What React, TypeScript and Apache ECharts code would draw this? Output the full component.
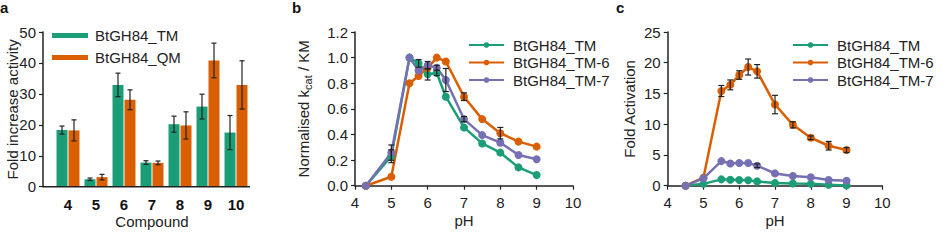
import React, { useEffect, useRef } from 'react';
import * as echarts from 'echarts';

// Panel a: fold increase in activity per compound
const compounds = ['4', '5', '6', '7', '8', '9', '10'];
const barNames = ['BtGH84_TM', 'BtGH84_QM'];
const tmActivity = [18.3, 2.4, 32.9, 7.8, 20.2, 25.9, 17.5];
const tmActivityErr = [1.3, 0.4, 3.8, 0.6, 2.6, 4.0, 5.5];
const qmActivity = [18.2, 3.1, 28.1, 7.7, 19.8, 40.8, 32.9];
const qmActivityErr = [3.4, 0.9, 3.2, 0.6, 4.4, 5.6, 7.8];

// Panel b: normalised kcat/KM vs pH
const lineNames = ['BtGH84_TM', 'BtGH84_TM-6', 'BtGH84_TM-7'];
const phKinetics = [4.3, 5, 5.5, 5.75, 6, 6.25, 6.5, 7, 7.5, 8, 8.5, 9];
const kinTM = [0, 0.23, 1.0, 0.955, 0.87, 0.88, 0.695, 0.455, 0.33, 0.258, 0.143, 0.083];
const kinTMErr = [0, 0.05, 0, 0.03, 0.045, 0.02, 0, 0, 0, 0, 0, 0];
const kinTM6 = [0, 0.07, 0.8, 0.857, 0.92, 1.0, 0.97, 0.695, 0.52, 0.41, 0.344, 0.305];
const kinTM6Err = [0, 0, 0, 0, 0, 0, 0, 0.03, 0, 0.045, 0, 0];
const kinTM7 = [0, 0.258, 1.0, 0.9, 0.94, 0.92, 0.825, 0.52, 0.395, 0.336, 0.24, 0.206];
const kinTM7Err = [0, 0.06, 0, 0, 0.03, 0.02, 0.09, 0.02, 0, 0, 0, 0];

// Panel c: fold activation vs pH
const phActivation = [4.5, 5, 5.5, 5.75, 6, 6.25, 6.5, 7, 7.5, 8, 8.5, 9];
const actTM = [0, 0.3, 1.03, 0.98, 0.92, 0.9, 0.7, 0.45, 0.35, 0.3, 0.15, 0.05];
const actTM6 = [0, 1.3, 15.4, 16.4, 18.0, 19.3, 18.6, 13.2, 9.9, 7.8, 6.5, 5.8];
const actTM6Err = [0, 0, 0.9, 0.8, 0.7, 1.3, 1.1, 1.5, 0.5, 0.3, 0.7, 0.4];
const actTM7 = [0, 1.2, 4.0, 3.6, 3.7, 3.7, 3.25, 2.0, 1.57, 1.36, 0.92, 0.8];
const actTM7Err = [0, 0, 0, 0, 0, 0, 0.3, 0, 0, 0, 0, 0];

const GREEN = '#1b9e77';
const ORANGE = '#d95f02';
const PURPLE = '#7570b3';
const INK = '#222';
const FONT = '"Liberation Sans", Arial, sans-serif';

function errorBarSeries(xs: (number | string)[], ys: number[], errs: number[], dx: number, cap: number) {
  const data = ys.map((y, i) => [typeof xs[i] === 'string' ? i : xs[i], y, errs[i]]);
  return {
    type: 'custom',
    z: 10,
    silent: true,
    data,
    renderItem: (_params: any, api: any) => {
      const x = api.value(0);
      const y = api.value(1);
      const e = api.value(2);
      if (!e) return { type: 'group', children: [] };
      const hi = api.coord([x, y + e]);
      const lo = api.coord([x, y - e]);
      const cx = hi[0] + dx;
      const style = { stroke: INK, lineWidth: 1.2 };
      return {
        type: 'group',
        children: [
          { type: 'line', shape: { x1: cx, y1: hi[1], x2: cx, y2: lo[1] }, style },
          { type: 'line', shape: { x1: cx - cap, y1: hi[1], x2: cx + cap, y2: hi[1] }, style },
          { type: 'line', shape: { x1: cx - cap, y1: lo[1], x2: cx + cap, y2: lo[1] }, style },
        ],
      };
    },
  };
}

const axisLine = { show: true, lineStyle: { color: INK, width: 1.5 } };
const axisTick = { show: true, length: 4, inside: false, lineStyle: { color: INK, width: 1.2 } };
const tickLabel = { fontSize: 15, color: INK, fontFamily: FONT };
const nameStyle = { fontSize: 15, color: INK, fontFamily: FONT };

function panelTitle(letter: string, x: number) {
  return {
    type: 'text',
    left: x,
    top: 0,
    style: { text: letter, font: `bold 15px ${FONT}`, fill: '#111' },
  };
}

function lineSeries(name: string, xs: number[], ys: number[], color: string) {
  return {
    name,
    type: 'line',
    data: xs.map((x, i) => [x, ys[i]]),
    symbol: 'circle',
    symbolSize: 8,
    lineStyle: { color, width: 2.5 },
    itemStyle: { color },
  };
}

function lineLegend(left: number) {
  return {
    orient: 'vertical',
    left,
    top: 37.5,
    padding: 0,
    itemWidth: 35,
    itemHeight: 7,
    itemGap: 2.5,
    textStyle: { fontSize: 15, color: INK, fontFamily: FONT, padding: [0, 0, 0, 4] },
    data: lineNames,
  };
}

// Bar legend: flat colour swatches with labels, stacked top-left inside the plot
function barLegend(colors: string[]) {
  const items: any[] = [];
  barNames.forEach((name, i) => {
    const cy = 35.5 + i * 22;
    items.push({ type: 'rect', shape: { x: 52, y: cy - 2.5, width: 36, height: 5 }, style: { fill: colors[i] }, z: 30 });
    items.push({
      type: 'text',
      x: 95,
      y: cy,
      style: { text: name, font: `15px ${FONT}`, fill: INK, verticalAlign: 'middle', align: 'left' },
      z: 30,
    });
  });
  return items;
}

const GRID_A = { left: 54, top: 32, width: 196, height: 154.7, containLabel: false, outerBoundsMode: 'none' };
const GRID_B = { left: 65, top: 32, width: 218, height: 153.7, containLabel: false, outerBoundsMode: 'none' };
const GRID_C = { left: 55.7, top: 32, width: 214.6, height: 153.7, containLabel: false, outerBoundsMode: 'none' };

function optionA() {
  return {
    animation: false,
    textStyle: { fontFamily: FONT },
    grid: GRID_A,
    xAxis: {
      type: 'category',
      data: compounds,
      axisLine: { show: false },
      axisTick: { show: false },
      axisLabel: { ...tickLabel, fontWeight: 'bold', color: '#111', margin: 10 },
      name: 'Compound',
      nameLocation: 'middle',
      nameGap: 27,
      nameMoveOverlap: false,
      nameTextStyle: nameStyle,
    },
    yAxis: {
      type: 'value',
      min: 0,
      max: 50,
      interval: 10,
      offset: 11,
      splitLine: { show: false },
      axisLine,
      axisTick,
      axisLabel: { ...tickLabel, margin: 7 },
      name: 'Fold increase activity',
      nameLocation: 'middle',
      nameGap: 23.5,
      nameMoveOverlap: false,
      nameTextStyle: nameStyle,
    },
    graphic: [
      {
        type: 'line',
        shape: {
          x1: GRID_A.left - 11,
          y1: GRID_A.top + GRID_A.height,
          x2: GRID_A.left + GRID_A.width,
          y2: GRID_A.top + GRID_A.height,
        },
        style: { stroke: INK, lineWidth: 1.5 },
        z: 20,
      },
      ...barLegend([GREEN, ORANGE]),
      panelTitle('a', 0),
    ],
    series: [
      { name: barNames[0], type: 'bar', data: tmActivity, barWidth: 11, barGap: '9%', itemStyle: { color: GREEN } },
      { name: barNames[1], type: 'bar', data: qmActivity, barWidth: 11, barGap: '9%', itemStyle: { color: ORANGE } },
      errorBarSeries(compounds, tmActivity, tmActivityErr, -6, 2.5),
      errorBarSeries(compounds, qmActivity, qmActivityErr, 6, 2.5),
    ],
  };
}

function phXAxis() {
  return {
    type: 'value',
    min: 4,
    max: 10,
    interval: 1,
    splitLine: { show: false },
    axisLine,
    axisTick,
    axisLabel: { ...tickLabel, margin: 9 },
    name: 'pH',
    nameLocation: 'middle',
    nameGap: 27,
    nameMoveOverlap: false,
    nameTextStyle: nameStyle,
  };
}

function optionB() {
  return {
    animation: false,
    textStyle: { fontFamily: FONT },
    grid: GRID_B,
    legend: lineLegend(178),
    xAxis: phXAxis(),
    yAxis: {
      type: 'value',
      min: 0,
      max: 1.2,
      interval: 0.2,
      splitLine: { show: false },
      axisLine,
      axisTick,
      axisLabel: { ...tickLabel, margin: 7, formatter: (v: number) => v.toFixed(1) },
      name: '{n|Normalised k}{sub|cat}{n| / KM}',
      nameLocation: 'middle',
      nameGap: 42,
      nameMoveOverlap: false,
      nameTextStyle: {
        ...nameStyle,
        rich: {
          n: { fontSize: 15, color: INK, fontFamily: FONT, lineHeight: 20, verticalAlign: 'middle' },
          sub: { fontSize: 11, color: INK, fontFamily: FONT, lineHeight: 20, verticalAlign: 'bottom' },
        },
      },
    },
    graphic: [panelTitle('b', 2)],
    series: [
      lineSeries(lineNames[0], phKinetics, kinTM, GREEN),
      lineSeries(lineNames[1], phKinetics, kinTM6, ORANGE),
      lineSeries(lineNames[2], phKinetics, kinTM7, PURPLE),
      errorBarSeries(phKinetics, kinTM, kinTMErr, 0, 3),
      errorBarSeries(phKinetics, kinTM6, kinTM6Err, 0, 3),
      errorBarSeries(phKinetics, kinTM7, kinTM7Err, 0, 3),
    ],
  };
}

function optionC() {
  return {
    animation: false,
    textStyle: { fontFamily: FONT },
    grid: GRID_C,
    legend: lineLegend(180),
    xAxis: phXAxis(),
    yAxis: {
      type: 'value',
      min: 0,
      max: 25,
      interval: 5,
      splitLine: { show: false },
      axisLine,
      axisTick,
      axisLabel: { ...tickLabel, margin: 7 },
      name: 'Fold Activation',
      nameLocation: 'middle',
      nameGap: 31,
      nameMoveOverlap: false,
      nameTextStyle: nameStyle,
    },
    graphic: [panelTitle('c', 4)],
    series: [
      lineSeries(lineNames[0], phActivation, actTM, GREEN),
      lineSeries(lineNames[1], phActivation, actTM6, ORANGE),
      lineSeries(lineNames[2], phActivation, actTM7, PURPLE),
      errorBarSeries(phActivation, actTM6, actTM6Err, 0, 3),
      errorBarSeries(phActivation, actTM7, actTM7Err, 0, 3),
    ],
  };
}

export default function App() {
  const aRef = useRef<HTMLDivElement>(null);
  const bRef = useRef<HTMLDivElement>(null);
  const cRef = useRef<HTMLDivElement>(null);

  useEffect(() => {
    const pairs: [HTMLDivElement | null, any][] = [
      [aRef.current, optionA()],
      [bRef.current, optionB()],
      [cRef.current, optionC()],
    ];
    const charts = pairs
      .filter(([el]) => el)
      .map(([el, opt]) => {
        const chart = echarts.init(el as HTMLDivElement, null, { renderer: 'svg' });
        chart.setOption(opt);
        return chart;
      });
    return () => charts.forEach((c) => c.dispose());
  }, []);

  return (
    <div style={{ position: 'fixed', left: 0, top: 0, width: 950, height: 242, background: '#fff', overflow: 'hidden' }}>
      <div ref={aRef} style={{ position: 'absolute', left: 0, top: 0, width: 290, height: 242 }} />
      <div ref={bRef} style={{ position: 'absolute', left: 290, top: 0, width: 330, height: 242 }} />
      <div ref={cRef} style={{ position: 'absolute', left: 612, top: 0, width: 338, height: 242 }} />
    </div>
  );
}
